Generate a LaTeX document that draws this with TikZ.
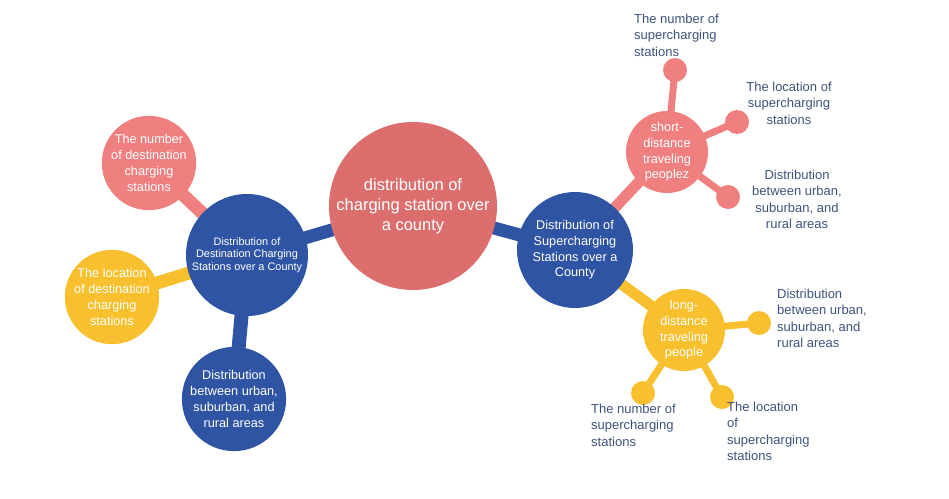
\documentclass[tikz,border=0pt]{standalone}
\usepackage{fontspec}
\setmainfont{Liberation Sans}
\usetikzlibrary{backgrounds}
\definecolor{cpink}{RGB}{221,110,110}
\definecolor{lpink}{RGB}{240,128,128}
\definecolor{dblue}{RGB}{47,84,164}
\definecolor{myyellow}{RGB}{248,192,46}
\definecolor{labtxt}{RGB}{62,82,124}
\tikzset{
  bub/.style={circle, inner sep=0pt, align=center, text=white, font=\fontsize{12.7}{15.8}\selectfont},
  dot/.style={circle, inner sep=0pt, minimum size=24pt},
  lab/.style={inner sep=0pt, text=labtxt, font=\fontsize{13}{16.3}\selectfont},
  thick1/.style={line width=13pt},
  thick2/.style={line width=11pt},
  thick3/.style={line width=7pt},
}
\begin{document}
\begin{tikzpicture}[x=1pt,y=-1pt]
\useasboundingbox (0,0) rectangle (949,498);
% main bubbles
\node[bub, fill=cpink, minimum size=168pt, font=\fontsize{16.5}{20}\selectfont] (c) at (413,206) {distribution of\\charging station over\\a county};
\node[bub, fill=dblue, minimum size=122pt, font=\fontsize{10.9}{12.6}\selectfont] (lb) at (247,255) {Distribution of\\Destination Charging\\Stations over a County};
\node[bub, fill=lpink, minimum size=92pt] (lp) at (149,163) {The number\\of destination\\charging\\stations};
\node[bub, fill=myyellow, minimum size=94pt] (ly) at (112,297) {The location\\of destination\\charging\\stations};
\node[bub, fill=dblue, minimum size=100pt] (bb) at (234,399) {Distribution\\between urban,\\suburban, and\\rural areas};
\node[bub, fill=dblue, minimum size=116pt] (rb) at (575,250) {Distribution of\\Supercharging\\Stations over a\\County};
\node[bub, fill=lpink, minimum size=82pt] (sp) at (667,152) {short-\\distance\\traveling\\peoplez};
\node[bub, fill=myyellow, minimum size=82pt] (ldy) at (684,330) {long-\\distance\\traveling\\people};
% small dots
\node[dot, fill=lpink] (sp1) at (675,70) {};
\node[dot, fill=lpink] (sp2) at (737,122) {};
\node[dot, fill=lpink] (sp3) at (728,197) {};
\node[dot, fill=myyellow] (ly1) at (759,323) {};
\node[dot, fill=myyellow] (ly2) at (643,393) {};
\node[dot, fill=myyellow] (ly3) at (722,397) {};
% connectors
\begin{scope}[on background layer]
\draw[thick1, dblue] (c.center) -- (lb.center);
\draw[thick1, dblue] (c.center) -- (rb.center);
\draw[thick1, lpink] (lp.center) -- (lb.center);
\draw[thick1, myyellow] (ly.center) -- (lb.center);
\draw[line width=14pt, dblue] (bb.center) -- (lb.center);
\draw[thick2, lpink] (sp.center) -- (rb.center);
\draw[thick2, myyellow] (ldy.center) -- (rb.center);
\draw[thick3, lpink] (sp.center) -- (sp1.center);
\draw[thick3, lpink] (sp.center) -- (sp2.center);
\draw[thick3, lpink] (sp.center) -- (sp3.center);
\draw[thick3, myyellow] (ldy.center) -- (ly1.center);
\draw[thick3, myyellow] (ldy.center) -- (ly2.center);
\draw[thick3, myyellow] (ldy.center) -- (ly3.center);
\end{scope}
% labels
\node[lab, align=left, anchor=north west] (t1) at (634,14) {The number of\\supercharging\\stations};
\node[lab, align=center, anchor=north] (t2) at (789,82) {The location of\\supercharging\\stations};
\node[lab, align=center, anchor=north] (t3) at (797,170) {Distribution\\between urban,\\suburban, and\\rural areas};
\node[lab, align=left, anchor=north west] (t4) at (777,289) {Distribution\\between urban,\\suburban, and\\rural areas};
\node[lab, align=left, anchor=north west] (t5) at (591,404) {The number of\\supercharging\\stations};
\node[lab, align=left, anchor=north west] (t6) at (727,402) {The location\\of\\supercharging\\stations};
\end{tikzpicture}
\end{document}
